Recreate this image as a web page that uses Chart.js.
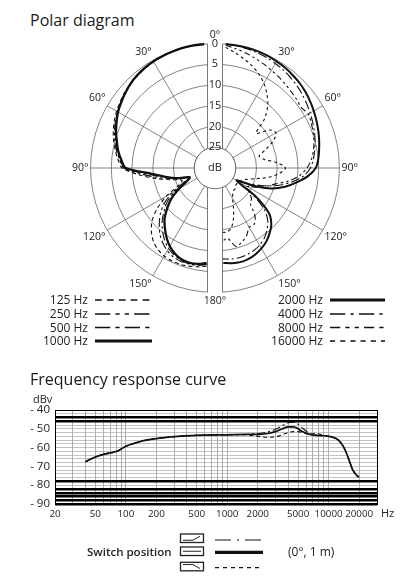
<!DOCTYPE html>
<html>
<head>
<meta charset="utf-8">
<script src="https://cdn.jsdelivr.net/npm/chart.js@4.4.1/dist/chart.umd.min.js"></script>
<style>
  html, body { margin: 0; padding: 0; background: #fff; }
  body { width: 415px; height: 587px; position: relative; overflow: hidden;
         font-family: "Open Sans", sans-serif; color: #222; }
  .title { position: absolute; left: 30px; font-size: 16px; line-height: 20px; color: #1a1a1a; }
  #polarBox { position: absolute; left: 0; top: 30px; width: 415px; height: 278px; }
  #freqBox { position: absolute; left: 0; top: 395px; width: 415px; height: 130px; }
  .txt { position: absolute; white-space: nowrap; line-height: 16px; }
  svg.ov { position: absolute; left: 0; top: 0; overflow: visible; }
</style>
</head>
<body>
<div class="title" style="top:10px">Polar diagram</div>
<div id="polarBox"><canvas id="polar"></canvas></div>
<div id="polarLegend"></div>

<div class="title" style="top:369px">Frequency response curve</div>
<div class="txt" style="left:33px;top:391px;font-size:11px">dBv</div>
<div id="freqBox"><canvas id="freq"></canvas></div>
<div class="txt" style="left:381px;top:505px;font-size:11px">Hz</div>
<div id="switchLegend"></div>

<script>
// ---- polar diagram data (attenuation in dB, read per 5 degrees from the front) ----
const halfAngles = [5,10,15,20,25,30,35,40,45,50,55,60,65,70,75,80,85,90,95,100,105,110,115,120,125,130,135,140,145,150,155,160,165,170,175];
const ringLabels = [0, 5, 10, 15, 20, 25];

// left half of the diagram
const att125  = [0,0,0,0.1,0.2,0.4,0.6,0.9,1.2,1.6,2.1,2.6,3.2,3.9,4.7,5.6,6.5,7.6,11.5,15.5,19,21.5,20.5,16.5,13,10.2,8.3,6.9,6,5.5,5.3,5.3,5.5,5.8,6.2];
const att250  = [0,0,0,0.1,0.2,0.4,0.6,0.9,1.3,1.8,2.3,2.9,3.5,4.2,5,5.9,6.9,8,12.5,16.5,20,22.5,21.5,18,15,12.8,11,9.3,8,7,6.3,6,6,6.2,6.6];
const att500  = [0,0,0,0.1,0.2,0.3,0.5,0.8,1.2,1.7,2.3,2.9,3.6,4.4,5.2,6,7,8.2,13.5,17.5,20.5,23.5,22.5,19,16,14,12,10.3,8.8,7.6,6.8,6.3,6.1,6.3,6.7];
const att1000 = [0,0,0,0.1,0.2,0.3,0.5,0.8,1.2,1.8,2.4,3,3.8,4.6,5.5,6.3,7.3,8.5,14.5,17.8,20.5,23.5,22.5,20,17.2,15,12.8,11.2,9.6,8.2,7.2,6.5,6.3,6.5,7];
// right half of the diagram
const att2000  = [0,0,0,0,0.1,0.3,0.5,0.8,1.1,1.5,2,2.5,3,3.5,4,4.5,5,5.7,7.5,10,12.5,15.5,20,24,18,13,10.8,9.5,8.4,7.6,7,6.6,6.5,6.7,7];
const att4000  = [0,0.1,0.2,0.4,0.6,0.9,1.2,1.6,2,2.5,3,3.5,4,4.5,5,5.6,6.2,7,8.5,11,14,17.5,21,23,19,14.5,12,10.5,9.3,8.5,8,7.7,7.6,7.7,8];
const att8000  = [0.3,0.8,1.3,1.8,2.3,2.8,3.2,3.6,4,4.3,4.6,4,4.4,4.8,5.3,5.9,6.7,7.8,9.5,12,15,17,19,21,20,18.5,18,15,13.5,13.5,12,11,10.4,12.8,12];
const att16000 = [0.8,1.8,2.8,3.8,5,6.4,8.2,10.2,13,17,14,13,14.5,17,19,18,15,13,14.5,17,20,22,23,23,23.5,23.5,23,23,22.5,21.5,19.5,17,15,14.3,14.5];

const polarFreqs = [125, 250, 500, 1000, 2000, 4000, 8000, 16000];
const polarAtt = [att125, att250, att500, att1000, att2000, att4000, att8000, att16000];
const polarSide = ['left','left','left','left','right','right','right','right'];
const polarDash = [[4,3], [9,3,2.5,3,2.5,3], [9,3,2.5,3], [], [], [9,3,2,3], [6,3,2.5,3,2.5,3], [3,3]];
const polarWidth = [1.1, 1.1, 1.1, 2.3, 2, 1.1, 1.1, 1.1];

// ---- frequency response data ----
const freqHz  = [40,50,63,75,85,100,125,150,200,300,500,1000,1500,2000,2500,3000,3500,4000,4500,5000,5500,6500,7500,9000,10000,11000,12500,14000,15000,16000,17000,18500,19800];
const flatDb  = [-67.5,-65,-63.3,-62.5,-61.5,-59.3,-57.5,-56.3,-55.2,-54.2,-53.5,-53.2,-53,-53,-52.5,-51.5,-50,-49,-49,-50,-51.5,-53,-53.5,-53.7,-54,-54.5,-56,-59.5,-63,-67,-71,-74.2,-75.7];
const boostDb = [-67.5,-65,-63.3,-62.5,-61.5,-59.3,-57.5,-56.3,-55.2,-54.2,-53.5,-53.2,-53,-52.5,-51.7,-50.3,-48.3,-46.8,-46.5,-47.5,-49.5,-52.5,-53.3,-53.7,-54,-54.5,-56,-59.5,-63,-67,-71,-74.2,-75.7];
const cutDb   = [-67.5,-65,-63.3,-62.5,-61.5,-59.3,-57.5,-56.3,-55.2,-54.2,-53.5,-53.2,-53.2,-54,-54.5,-54.3,-53.2,-52,-51.5,-51.5,-52,-52.8,-52.5,-53.5,-54,-54.5,-56,-59.5,-63,-67,-71,-74.2,-75.7];
const xGridHz = [20,30,40,50,60,70,80,90,100,200,300,400,500,600,700,800,900,1000,2000,3000,4000,5000,6000,7000,8000,9000,10000,20000,30000];
const xLabels = [20,50,100,200,500,1000,2000,5000,10000,20000];
const yGridDb = [-90,-88,-86,-84,-82,-80,-78,-76,-74,-72,-70,-68,-66,-64,-62,-60,-58,-56,-54,-52,-50,-48,-46,-44,-42,-40];
const yBoldDb = [-90,-88,-86,-84,-82,-78,-46,-44];
const switchDash = [[16,6,2,6,16], [], [4,4]];
const switchWidth = [1.2, 3.2, 1.2];

Chart.defaults.font.family = '"Open Sans", sans-serif';
Chart.defaults.color = '#222';

// ---- polar chart ----
const fullAngles = [0, ...halfAngles, 180, ...halfAngles.map(a => 360 - a).reverse()];
const angleText = fullAngles.map(a => (a <= 180 ? a : 360 - a) + '°');

function radarData(att, side) {
  const vals = att.map(a => 30 - a);
  const empty = halfAngles.map(() => null);
  return side === 'right' ? [null, ...vals, null, ...empty] : [null, ...empty, null, ...vals.slice().reverse()];
}

const polarOverlay = {
  id: 'polarOverlay',
  afterDatasetsDraw(chart) {
    const s = chart.scales.r, ctx = chart.ctx;
    const cx = s.xCenter, cy = s.yCenter, R = s.drawingArea;
    const hole = s.getDistanceFromCenterForValue(30 - 25);
    const hw = 7.5;
    ctx.save();
    ctx.fillStyle = '#fff';
    ctx.fillRect(cx - hw, cy - R - 2, hw * 2, 2 * R + 4);
    ctx.beginPath();
    ctx.arc(cx, cy, hole, 0, Math.PI * 2);
    ctx.fill();
    ctx.strokeStyle = '#555';
    ctx.lineWidth = 0.8;
    ctx.stroke();
    const yo = Math.sqrt(R * R - hw * hw), yi = Math.sqrt(hole * hole - hw * hw);
    ctx.beginPath();
    [-hw, hw].forEach(dx => {
      ctx.moveTo(cx + dx, cy - yo); ctx.lineTo(cx + dx, cy - yi);
      ctx.moveTo(cx + dx, cy + yi); ctx.lineTo(cx + dx, cy + yo);
    });
    ctx.stroke();
    ctx.fillStyle = '#222';
    ctx.font = '11px "Open Sans"';
    ctx.textAlign = 'center';
    ctx.textBaseline = 'middle';
    ringLabels.forEach(a => ctx.fillText(String(a), cx, cy - s.getDistanceFromCenterForValue(30 - a)));
    ctx.fillText('dB', cx, cy);
    ctx.restore();
  }
};

new Chart(document.getElementById('polar'), {
  type: 'radar',
  data: {
    labels: angleText,
    datasets: polarFreqs.map((f, i) => ({
      label: f + ' Hz',
      data: radarData(polarAtt[i], polarSide[i]),
      borderColor: '#111',
      borderWidth: polarWidth[i],
      borderDash: polarDash[i],
      fill: false,
      spanGaps: false,
      tension: 0.3,
      pointRadius: 0,
      pointHitRadius: 0
    }))
  },
  options: {
    responsive: true,
    maintainAspectRatio: false,
    animation: false,
    layout: { padding: { left: 16 } },
    plugins: { legend: { display: false }, tooltip: { enabled: false } },
    scales: {
      r: {
        min: 0, max: 30,
        ticks: { display: false, stepSize: 5 },
        grid: { circular: true, color: '#666', lineWidth: 0.8 },
        angleLines: {
          color: ctx => (ctx.index % 6 === 0 && ctx.index % 36 !== 0) ? '#666' : 'rgba(0,0,0,0)',
          lineWidth: 0.8
        },
        pointLabels: {
          font: { size: 10.5 },
          color: '#222',
          padding: 2,
          callback: (label, i) => i % 6 === 0 ? label : ''
        }
      }
    }
  },
  plugins: [polarOverlay]
});

// ---- polar legend ----
const legendBox = document.getElementById('polarLegend');
const rowY = [300, 314, 327.5, 341];
polarFreqs.forEach((f, i) => {
  const col = i < 4 ? 0 : 1, row = i % 4;
  const textRight = col ? 323 : 88;
  const lineX = col ? 330 : 95;
  const lineW = col ? 55 : 57;
  const t = document.createElement('div');
  t.className = 'txt';
  t.style.cssText = `left:${textRight - 80}px;width:80px;text-align:right;top:${rowY[row] - 8}px;font-size:12px;`;
  t.textContent = f + ' Hz';
  legendBox.appendChild(t);
  const dash = polarDash[i].map(d => d * 1.7).join(' ');
  const w = polarWidth[i] > 1.5 ? polarWidth[i] + 0.8 : 1.3;
  legendBox.insertAdjacentHTML('beforeend',
    `<svg class="ov" width="415" height="587"><line x1="${lineX}" y1="${rowY[row]}" x2="${lineX + lineW}" y2="${rowY[row]}" stroke="#111" stroke-width="${w}" stroke-dasharray="${dash}"/></svg>`);
});

// ---- frequency response chart ----
const freqSets = [
  { name: 'flat', values: flatDb, width: 1.7, dash: [] },
  { name: 'boost', values: boostDb, width: 1.1, dash: [8, 3, 2, 3] },
  { name: 'cut', values: cutDb, width: 1.1, dash: [4, 3] }
];

new Chart(document.getElementById('freq'), {
  type: 'line',
  data: {
    datasets: freqSets.map(s => ({
      label: s.name,
      data: freqHz.map((f, i) => ({ x: f, y: s.values[i] })),
      borderColor: '#111',
      borderWidth: s.width,
      borderDash: s.dash,
      pointRadius: 0,
      cubicInterpolationMode: 'monotone',
      fill: false
    }))
  },
  options: {
    responsive: true,
    maintainAspectRatio: false,
    animation: false,
    layout: { padding: { top: 15, right: 38, left: 0, bottom: 0 } },
    plugins: { legend: { display: false }, tooltip: { enabled: false } },
    scales: {
      x: {
        type: 'logarithmic',
        min: 20, max: 30000,
        afterBuildTicks: s => { s.ticks = xGridHz.map(v => ({ value: v })); },
        afterFit: s => { s.height = 21; },
        ticks: {
          autoSkip: false, maxRotation: 0, padding: 4,
          font: { size: 9.8 }, color: '#222',
          callback: v => xLabels.includes(v) ? String(v) : ''
        },
        grid: {
          drawTicks: false,
          color: ctx => (ctx.tick && (ctx.tick.value === 20 || ctx.tick.value === 30000)) ? '#000' : '#888',
          lineWidth: ctx => (ctx.tick && (ctx.tick.value === 20 || ctx.tick.value === 30000)) ? 1 : 0.7
        },
        border: { color: '#000', width: 1 }
      },
      y: {
        min: -90, max: -40,
        afterBuildTicks: s => { s.ticks = yGridDb.map(v => ({ value: v })); },
        afterFit: s => { s.width = 55; },
        ticks: {
          autoSkip: false, padding: 5,
          font: { size: 11.5 }, color: '#222',
          callback: v => v % 10 === 0 ? '- ' + Math.abs(v) : ''
        },
        grid: {
          drawTicks: false,
          color: ctx => {
            const v = ctx.tick && ctx.tick.value;
            return (yBoldDb.includes(v) || v === -40) ? '#000' : '#a8a8a8';
          },
          lineWidth: ctx => {
            const v = ctx.tick && ctx.tick.value;
            return yBoldDb.includes(v) ? 2.4 : (v === -40 ? 1 : 0.7);
          }
        },
        border: { color: '#000', width: 1 }
      }
    }
  }
});

// ---- switch position legend ----
const sw = document.getElementById('switchLegend');
const boxY = [534, 547, 562.3];
const sampleY = [540, 552.3, 567.7];
let svg = '<svg class="ov" width="415" height="587">';
boxY.forEach((y, i) => {
  svg += `<rect x="180.5" y="${y}" width="23" height="8.5" fill="none" stroke="#222" stroke-width="1.3"/>`;
  const m = y + 4.25;
  if (i === 0) svg += `<polyline points="183,${m + 2} 193,${m + 2} 200,${m - 2}" fill="none" stroke="#222" stroke-width="1"/>`;
  if (i === 1) svg += `<line x1="183" y1="${m}" x2="201" y2="${m}" stroke="#222" stroke-width="1"/>`;
  if (i === 2) svg += `<polyline points="183,${m - 2} 193,${m - 2} 200,${m + 2}" fill="none" stroke="#222" stroke-width="1"/>`;
  svg += `<line x1="215" y1="${sampleY[i]}" x2="263" y2="${sampleY[i]}" stroke="#111" stroke-width="${switchWidth[i]}" stroke-dasharray="${switchDash[i].join(' ')}"/>`;
});
svg += '</svg>';
sw.innerHTML = svg +
  '<div class="txt" style="left:87px;top:544px;font-size:11.5px;font-weight:600;color:#222">Switch position</div>' +
  '<div class="txt" style="left:288px;top:544px;font-size:12px">(0°, 1 m)</div>';
</script>
</body>
</html>
